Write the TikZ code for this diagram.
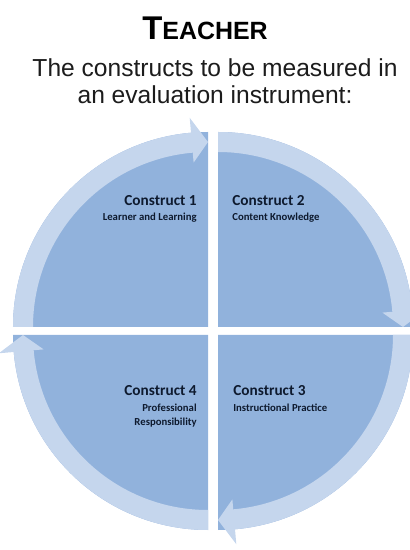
\documentclass[tikz,border=0pt]{standalone}
\usepackage{fontspec}
\setmainfont{Liberation Sans}
\newfontfamily\calibri{Carlito}
\definecolor{wedgeblue}{RGB}{145,178,220}
\definecolor{bandblue}{RGB}{197,214,237}
\definecolor{textnavy}{RGB}{14,26,46}
\definecolor{textgray}{RGB}{28,28,28}

\begin{document}
\begin{tikzpicture}[x=0.02cm, y=0.02cm,
		wedge/.style={fill=wedgeblue},
		band/.style={fill=bandblue},
		conhead/.style={font=\calibri\bfseries\fontsize{8.7}{10}\selectfont, text=textnavy, inner sep=0pt},
		consub/.style={font=\calibri\bfseries\fontsize{6.1}{7.2}\selectfont, text=textnavy, inner sep=0pt}]
			\useasboundingbox (-213,-219) rectangle (196,331);
			\node[anchor=base, inner sep=0pt] (title) at (-8,291) {\bfseries\fontsize{18.7}{20}\selectfont T\fontsize{14.2}{16}\selectfont EACHER};
			\node[anchor=north, align=center, inner sep=0pt, text=textgray, font=\fontsize{14}{15.3}\selectfont] (subtitle) at (2,273) {The constructs to be measured in\\an evaluation instrument:};
			\fill[wedge] (-5,4) -- ++(180:195) arc[start angle=180, end angle=90, radius=195] -- cycle;
			\fill[wedge] (5,4) -- ++(90:195) arc[start angle=90, end angle=0, radius=195] -- cycle;
			\fill[wedge] (5,-4) -- ++(0:195) arc[start angle=0, end angle=-90, radius=195] -- cycle;
			\fill[wedge] (-5,-4) -- ++(270:195) arc[start angle=270, end angle=180, radius=195] -- cycle;
			\fill[band] ([shift={(-5,4)}]180:175) -- ([shift={(-5,4)}]180:195) arc[start angle=180, end angle=95, radius=195] -- ([shift={(-5,4)}]95:210) -- ([shift={(-5,4)}]90:185) -- ([shift={(-5,4)}]95:165) -- ([shift={(-5,4)}]95:175) arc[start angle=95, end angle=180, radius=175] -- cycle;
			\fill[band] ([shift={(5,4)}]90:175) -- ([shift={(5,4)}]90:195) arc[start angle=90, end angle=5, radius=195] -- ([shift={(5,4)}]5:210) -- ([shift={(5,4)}]0:185) -- ([shift={(5,4)}]5:165) -- ([shift={(5,4)}]5:175) arc[start angle=5, end angle=90, radius=175] -- cycle;
			\fill[band] ([shift={(5,-4)}]0:175) -- ([shift={(5,-4)}]0:195) arc[start angle=0, end angle=-85, radius=195] -- ([shift={(5,-4)}]-85:210) -- ([shift={(5,-4)}]-90:185) -- ([shift={(5,-4)}]-85:165) -- ([shift={(5,-4)}]-85:175) arc[start angle=-85, end angle=0, radius=175] -- cycle;
			\fill[band] ([shift={(-5,-4)}]270:175) -- ([shift={(-5,-4)}]270:195) arc[start angle=270, end angle=185, radius=195] -- ([shift={(-5,-4)}]185:210) -- ([shift={(-5,-4)}]180:185) -- ([shift={(-5,-4)}]185:165) -- ([shift={(-5,-4)}]185:175) arc[start angle=185, end angle=270, radius=175] -- cycle;
			\node[conhead, anchor=base east] (con1) at (-16,125) {Construct 1};
			\node[consub, anchor=base east] (sub1) at (-16,110) {Learner and Learning};
			\node[conhead, anchor=base west] (con2) at (19,125) {Construct 2};
			\node[consub, anchor=base west] (sub2) at (19,110) {Content Knowledge};
			\node[conhead, anchor=base west] (con3) at (20,-65) {Construct 3};
			\node[consub, anchor=base west] (sub3) at (20,-80) {Instructional Practice};
			\node[conhead, anchor=base east] (con4) at (-16,-65) {Construct 4};
			\node[consub, anchor=base east] (sub4a) at (-16,-80) {Professional};
			\node[consub, anchor=base east] (sub4b) at (-16,-94) {Responsibility};
		\end{tikzpicture}
\end{document}
